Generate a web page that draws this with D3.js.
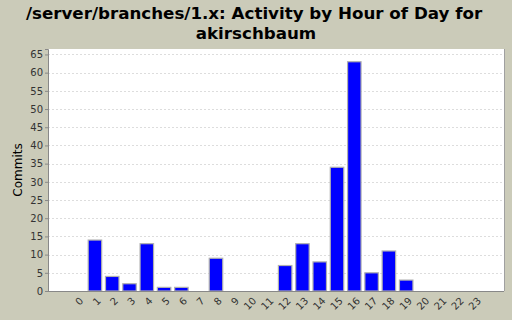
<!DOCTYPE html>
<html>
<head>
<meta charset="utf-8">
<script src="https://cdn.jsdelivr.net/npm/d3@7"></script>
<style>
  body { margin: 0; background: #cbcbb9; }
  svg { display: block; font-family: "DejaVu Sans", sans-serif; }
</style>
</head>
<body>
<div id="chart"></div>
<script>
// chart data
var hours = ["0","1","2","3","4","5","6","7","8","9","10","11","12","13","14","15","16","17","18","19","20","21","22","23"];
var commits = [0, 14, 4, 2, 13, 1, 1, 0, 9, 0, 0, 0, 7, 13, 8, 34, 63, 5, 11, 3, 0, 0, 0, 0];
var yTicks = [0, 5, 10, 15, 20, 25, 30, 35, 40, 45, 50, 55, 60, 65];

var W = 512, H = 320;
var plot = {left: 48, right: 504, top: 49, bottom: 291};

var svg = d3.select("#chart").append("svg")
    .attr("width", W)
    .attr("height", H);

svg.append("rect").attr("width", W).attr("height", H).attr("fill", "#cbcbb9");

// title
svg.append("text")
    .attr("x", W / 2 - 2).attr("y", 19)
    .attr("text-anchor", "middle")
    .attr("font-size", 16.7).attr("font-weight", "bold")
    .text("/server/branches/1.x: Activity by Hour of Day for");
svg.append("text")
    .attr("x", W / 2).attr("y", 39)
    .attr("text-anchor", "middle")
    .attr("font-size", 16.7).attr("font-weight", "bold")
    .text("akirschbaum");

// scales
var x = d3.scaleBand()
    .domain(hours)
    .range([69, 484])
    .paddingInner(0.22)
    .paddingOuter(0.11);

var y = d3.scaleLinear()
    .domain([0, 66.5])
    .range([plot.bottom, plot.top]);

// plot background
svg.append("rect")
    .attr("x", plot.left).attr("y", plot.top)
    .attr("width", plot.right - plot.left)
    .attr("height", plot.bottom - plot.top)
    .attr("fill", "#ffffff");

// gridlines
svg.append("g")
    .selectAll("line")
    .data(yTicks.slice(1))
  .enter().append("line")
    .attr("x1", plot.left).attr("x2", plot.right)
    .attr("y1", function(d) { return Math.round(y(d)) + 0.5; })
    .attr("y2", function(d) { return Math.round(y(d)) + 0.5; })
    .attr("stroke", "#dddddd")
    .attr("stroke-dasharray", "2,2");

// bars
svg.append("g")
    .selectAll("rect")
    .data(commits)
  .enter().append("rect")
    .attr("x", function(d, i) { return x(hours[i]); })
    .attr("y", function(d) { return y(d); })
    .attr("width", x.bandwidth())
    .attr("height", function(d) { return y(0) - y(d); })
    .attr("fill", "#0000ff")
    .attr("stroke", function(d) { return d > 0 ? "#b0b0b0" : "none"; })
    .attr("stroke-width", 1.2);

// right border shadow
svg.append("line")
    .attr("x1", plot.right + 0.5).attr("x2", plot.right + 0.5)
    .attr("y1", plot.top).attr("y2", plot.bottom)
    .attr("stroke", "#a0a0a0");

// y axis
var yAxis = svg.append("g")
    .attr("transform", "translate(" + plot.left + ",0)")
    .call(d3.axisLeft(y).tickValues(yTicks).tickSize(3).tickPadding(2));
yAxis.select(".domain").attr("stroke", "#888888");
yAxis.selectAll(".tick line").attr("stroke", "#888888");
yAxis.selectAll("text").attr("font-size", 10).attr("fill", "#333333")
    .attr("font-family", "DejaVu Sans, sans-serif");

// x axis
var xAxis = svg.append("g")
    .attr("transform", "translate(0," + plot.bottom + ")")
    .call(d3.axisBottom(x).tickSize(0).tickPadding(0));
xAxis.select(".domain").attr("d", "M" + plot.left + ",0.5H" + plot.right).attr("stroke", "#888888");
xAxis.selectAll("text")
    .attr("font-size", 10).attr("fill", "#333333")
    .attr("font-family", "DejaVu Sans, sans-serif")
    .attr("text-anchor", "end")
    .attr("dy", "0.35em")
    .attr("transform", "translate(4,8) rotate(-45)");

// y label
svg.append("text")
    .attr("text-anchor", "middle")
    .attr("transform", "translate(22," + ((plot.top + plot.bottom) / 2) + ")rotate(-90)")
    .attr("font-size", 12)
    .text("Commits");
</script>
</body>
</html>
